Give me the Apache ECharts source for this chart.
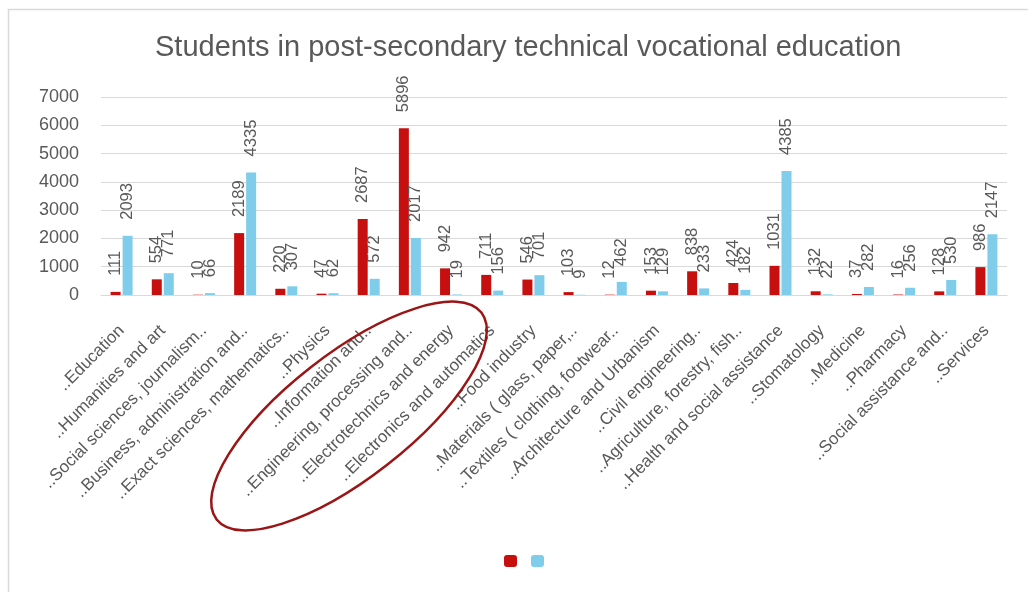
<!DOCTYPE html>
<html>
<head>
<meta charset="utf-8">
<script src="https://cdn.jsdelivr.net/npm/echarts@6/dist/echarts.min.js"></script>
<style>
  html, body { margin: 0; padding: 0; background: #ffffff; }
  #chart { width: 1028px; height: 592px; }
</style>
</head>
<body>
<div id="chart"></div>
<script>
// Fields of study
const categories = [
  '..Education',
  '..Humanities and art',
  '..Social sciences, journalism..',
  '..Business, administration and..',
  '..Exact sciences, mathematics..',
  '..Physics',
  '..Information and..',
  '..Engineering, processing and..',
  '..Electrotechnics and energy',
  '..Electronics and automatics',
  '..Food industry',
  '..Materials ( glass, paper,..',
  '..Textiles ( clothing, footwear..',
  '..Architecture and Urbanism',
  '..Civil engineering..',
  '..Agriculture, forestry, fish..',
  '..Health and social assistance',
  '..Stomatology',
  '..Medicine',
  '..Pharmacy',
  '..Social assistance and..',
  '..Services'
];

// Student counts, first series (red)
const seriesA = [111, 554, 10, 2189, 220, 47, 2687, 5896, 942, 711, 546, 103, 12, 153, 838, 424, 1031, 132, 37, 16, 128, 986];
// Student counts, second series (blue)
const seriesB = [2093, 771, 66, 4335, 307, 62, 572, 2017, 19, 156, 701, 9, 462, 129, 233, 182, 4385, 22, 282, 256, 530, 2147];

const textColor = '#595959';
const gridColor = '#d9d9d9';
const fontFamily = '"Liberation Sans", Arial, sans-serif';

const chart = echarts.init(document.getElementById('chart'), null, { renderer: 'canvas' });

const valueLabel = {
  show: true,
  position: 'top',
  rotate: 90,
  align: 'left',
  verticalAlign: 'middle',
  distance: 16,
  fontSize: 16.5,
  color: textColor,
  fontFamily: fontFamily
};

chart.setOption({
  backgroundColor: '#ffffff',
  animation: false,
  textStyle: { fontFamily: fontFamily },
  title: {
    text: 'Students in post-secondary technical vocational education',
    left: 150,
    top: 28,
    textStyle: { fontSize: 29, fontWeight: 'normal', color: textColor, fontFamily: fontFamily }
  },
  legend: {
    bottom: 20,
    left: 499,
    itemWidth: 13,
    itemHeight: 12,
    itemGap: 14,
    formatter: () => '',
    textStyle: { fontSize: 1 },
    data: ['A', 'B']
  },
  grid: { left: 101, right: 21, top: 97, bottom: 297, containLabel: false },
  xAxis: {
    type: 'category',
    data: categories,
    axisTick: { show: false },
    axisLine: { lineStyle: { color: gridColor, width: 1 } },
    axisLabel: {
      interval: 0,
      rotate: 45,
      margin: 33,
      fontSize: 17,
      color: textColor,
      fontFamily: fontFamily
    }
  },
  yAxis: {
    type: 'value',
    min: 0,
    max: 7000,
    interval: 1000,
    axisLine: { show: false },
    axisTick: { show: false },
    splitLine: { lineStyle: { color: gridColor, width: 1 } },
    axisLabel: {
      fontSize: 18,
      color: textColor,
      margin: 22,
      fontFamily: fontFamily,
      formatter: (v) => String(v)
    }
  },
  series: [
    {
      name: 'A',
      type: 'bar',
      data: seriesA,
      barWidth: 10,
      barGap: '20%',
      itemStyle: { color: '#C80F0F' },
      label: valueLabel
    },
    {
      name: 'B',
      type: 'bar',
      data: seriesB,
      barWidth: 10,
      itemStyle: { color: '#7FCDEB' },
      label: valueLabel
    }
  ],
  graphic: [
    // chart frame edges
    {
      type: 'polyline',
      shape: { points: [[8.5, 592], [8.5, 9.5], [1028, 9.5]] },
      style: { stroke: gridColor, lineWidth: 1.5, fill: null },
      silent: true
    },
    // highlight around the engineering group
    {
      type: 'ellipse',
      x: 349,
      y: 416,
      rotation: 38 * Math.PI / 180,
      shape: { cx: 0, cy: 0, rx: 168, ry: 62 },
      style: { stroke: '#9A1515', lineWidth: 2.5, fill: null },
      silent: true,
      z: 100
    }
  ]
});
</script>
</body>
</html>
